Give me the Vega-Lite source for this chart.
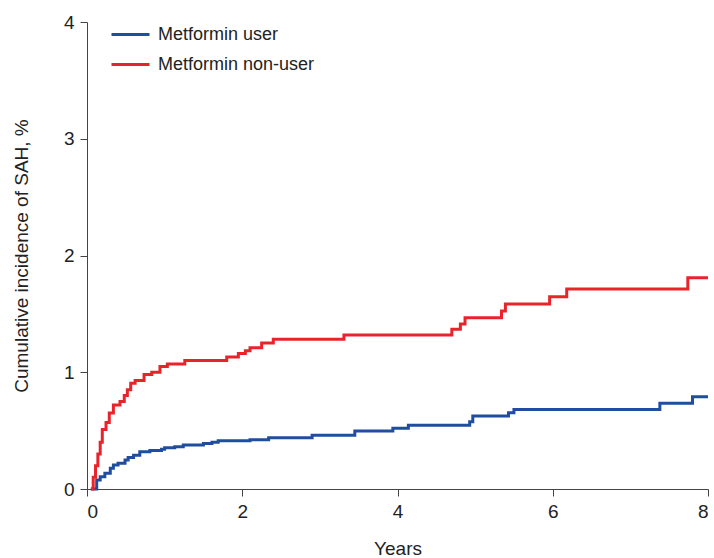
{
  "$schema": "https://vega.github.io/schema/vega-lite/v6.json",
  "autosize": "none",
  "width": 621,
  "height": 467,
  "padding": {"left": 87, "top": 22, "right": 6, "bottom": 69},
  "background": "white",
  "config": {
    "view": {"stroke": null},
    "font": "Liberation Sans",
    "axis": {"grid": false, "domainColor": "#444", "tickColor": "#444", "labelColor": "#222", "titleColor": "#222", "labelFont": "Liberation Sans", "titleFont": "Liberation Sans", "titleFontWeight": "normal"}
  },
  "data": {"values": [
    {"group": "Metformin user", "t": 0.05, "v": 0},
    {"group": "Metformin user", "t": 0.125, "v": 0.077},
    {"group": "Metformin user", "t": 0.17, "v": 0.105},
    {"group": "Metformin user", "t": 0.23, "v": 0.134},
    {"group": "Metformin user", "t": 0.30, "v": 0.177},
    {"group": "Metformin user", "t": 0.34, "v": 0.206},
    {"group": "Metformin user", "t": 0.40, "v": 0.22},
    {"group": "Metformin user", "t": 0.49, "v": 0.248},
    {"group": "Metformin user", "t": 0.53, "v": 0.27},
    {"group": "Metformin user", "t": 0.60, "v": 0.29},
    {"group": "Metformin user", "t": 0.68, "v": 0.32},
    {"group": "Metformin user", "t": 0.81, "v": 0.33},
    {"group": "Metformin user", "t": 0.96, "v": 0.34},
    {"group": "Metformin user", "t": 1.00, "v": 0.354},
    {"group": "Metformin user", "t": 1.13, "v": 0.362},
    {"group": "Metformin user", "t": 1.24, "v": 0.377},
    {"group": "Metformin user", "t": 1.50, "v": 0.39},
    {"group": "Metformin user", "t": 1.61, "v": 0.40},
    {"group": "Metformin user", "t": 1.69, "v": 0.414},
    {"group": "Metformin user", "t": 2.10, "v": 0.422},
    {"group": "Metformin user", "t": 2.34, "v": 0.44},
    {"group": "Metformin user", "t": 2.90, "v": 0.46},
    {"group": "Metformin user", "t": 3.45, "v": 0.497},
    {"group": "Metformin user", "t": 3.94, "v": 0.52},
    {"group": "Metformin user", "t": 4.14, "v": 0.545},
    {"group": "Metformin user", "t": 4.93, "v": 0.577},
    {"group": "Metformin user", "t": 4.97, "v": 0.625},
    {"group": "Metformin user", "t": 5.43, "v": 0.654},
    {"group": "Metformin user", "t": 5.50, "v": 0.68},
    {"group": "Metformin user", "t": 7.38, "v": 0.734},
    {"group": "Metformin user", "t": 7.80, "v": 0.79},
    {"group": "Metformin user", "t": 8.0, "v": 0.79},
    {"group": "Metformin non-user", "t": 0.05, "v": 0},
    {"group": "Metformin non-user", "t": 0.08, "v": 0.1},
    {"group": "Metformin non-user", "t": 0.11, "v": 0.2},
    {"group": "Metformin non-user", "t": 0.14, "v": 0.3},
    {"group": "Metformin non-user", "t": 0.17, "v": 0.4},
    {"group": "Metformin non-user", "t": 0.197, "v": 0.51},
    {"group": "Metformin non-user", "t": 0.245, "v": 0.57},
    {"group": "Metformin non-user", "t": 0.287, "v": 0.65},
    {"group": "Metformin non-user", "t": 0.34, "v": 0.72},
    {"group": "Metformin non-user", "t": 0.425, "v": 0.75},
    {"group": "Metformin non-user", "t": 0.48, "v": 0.80},
    {"group": "Metformin non-user", "t": 0.52, "v": 0.85},
    {"group": "Metformin non-user", "t": 0.563, "v": 0.905},
    {"group": "Metformin non-user", "t": 0.62, "v": 0.93},
    {"group": "Metformin non-user", "t": 0.735, "v": 0.98},
    {"group": "Metformin non-user", "t": 0.834, "v": 1.0},
    {"group": "Metformin non-user", "t": 0.94, "v": 1.05},
    {"group": "Metformin non-user", "t": 1.035, "v": 1.07},
    {"group": "Metformin non-user", "t": 1.26, "v": 1.10},
    {"group": "Metformin non-user", "t": 1.80, "v": 1.13},
    {"group": "Metformin non-user", "t": 1.95, "v": 1.16},
    {"group": "Metformin non-user", "t": 2.04, "v": 1.185},
    {"group": "Metformin non-user", "t": 2.10, "v": 1.21},
    {"group": "Metformin non-user", "t": 2.25, "v": 1.25},
    {"group": "Metformin non-user", "t": 2.40, "v": 1.282},
    {"group": "Metformin non-user", "t": 3.31, "v": 1.319},
    {"group": "Metformin non-user", "t": 4.70, "v": 1.368},
    {"group": "Metformin non-user", "t": 4.81, "v": 1.413},
    {"group": "Metformin non-user", "t": 4.87, "v": 1.467},
    {"group": "Metformin non-user", "t": 5.34, "v": 1.525},
    {"group": "Metformin non-user", "t": 5.39, "v": 1.585},
    {"group": "Metformin non-user", "t": 5.96, "v": 1.647},
    {"group": "Metformin non-user", "t": 6.18, "v": 1.713},
    {"group": "Metformin non-user", "t": 7.74, "v": 1.81},
    {"group": "Metformin non-user", "t": 8.0, "v": 1.81}
  ]},
  "mark": {"type": "line", "interpolate": "step-after", "strokeWidth": 3},
  "encoding": {
    "x": {"field": "t", "type": "quantitative", "title": "Years",
      "scale": {"domain": [0, 8], "nice": false, "zero": true},
      "axis": {"values": [0, 2, 4, 6, 8], "labelFontSize": 19, "titleFontSize": 19, "tickSize": 7, "labelPadding": 6, "titlePadding": 18}},
    "y": {"field": "v", "type": "quantitative", "title": "Cumulative incidence of SAH, %",
      "scale": {"domain": [0, 4], "nice": false},
      "axis": {"values": [0, 1, 2, 3, 4], "labelFontSize": 19, "titleFontSize": 19, "tickSize": 7, "labelPadding": 6, "titlePadding": 32}},
    "color": {"field": "group", "type": "nominal",
      "scale": {"domain": ["Metformin user", "Metformin non-user"], "range": ["#1f4e9f", "#e8242b"]},
      "legend": {"title": null, "orient": "none", "legendX": 23, "legendY": -8, "symbolType": "stroke", "symbolSize": 1444, "symbolStrokeWidth": 3, "labelFontSize": 18, "labelColor": "#222", "rowPadding": -9, "labelOffset": 7, "padding": 0}
    }
  }
}
